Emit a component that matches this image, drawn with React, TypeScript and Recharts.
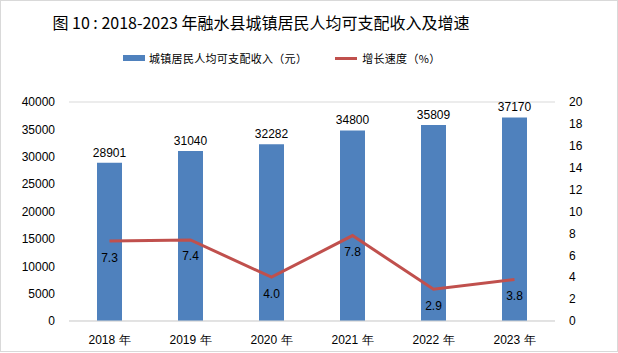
import React from 'react';
import { ComposedChart, Bar, Line, XAxis, YAxis, CartesianGrid, LabelList } from 'recharts';

const years = ['2018 年', '2019 年', '2020 年', '2021 年', '2022 年', '2023 年'];
const income = [28901, 31040, 32282, 34800, 35809, 37170];
const growth = [7.3, 7.4, 4.0, 7.8, 2.9, 3.8];
const leftTicks = [0, 5000, 10000, 15000, 20000, 25000, 30000, 35000, 40000];
const rightTicks = [0, 2, 4, 6, 8, 10, 12, 14, 16, 18, 20];

const data = years.map((y, i) => ({ year: y, income: income[i], growth: growth[i] }));

const BAR = '#4F81BD';
const LINE = '#C0504D';
const FONT = '"Liberation Sans", Arial, sans-serif';
const CJK = '"Noto Sans CJK SC", "Noto Sans", sans-serif';

export default function App() {
  return (
    <div style={{ position: 'absolute', left: 0, top: 0, width: 618, height: 353, background: '#fff' }}>
      <div style={{ position: 'absolute', left: 0, top: 0, width: 616, height: 350, border: '1px solid #d9d9d9' }} />
      <div style={{ position: 'absolute', left: 0, top: 10, width: 522, textAlign: 'center', fontFamily: CJK, fontSize: 16, color: '#000', whiteSpace: 'nowrap' }}>
        图 10 : 2018-2023 年融水县城镇居民人均可支配收入及增速
      </div>
      <div style={{ position: 'absolute', left: 123, top: 50, display: 'flex', alignItems: 'center', fontFamily: CJK, fontSize: 11, color: '#000', whiteSpace: 'nowrap' }}>
        <span style={{ display: 'inline-block', width: 22, height: 6, background: BAR, marginRight: 4 }} />
        <span style={{ letterSpacing: 0.3 }}>城镇居民人均可支配收入（元）</span>
        <span style={{ display: 'inline-block', width: 22, height: 3, background: LINE, marginLeft: 28, marginRight: 5 }} />
        <span style={{ letterSpacing: 0.3 }}>增长速度（%）</span>
      </div>
      <ComposedChart width={618} height={353} data={data} margin={{ top: 102, right: 13, bottom: 2, left: 9 }}>
        <CartesianGrid vertical={false} stroke="#d9d9d9" />
        <XAxis dataKey="year" axisLine={{ stroke: '#d9d9d9' }} tickLine={false} height={30} tick={{ fontFamily: FONT, fontSize: 12, fill: '#000' }} tickMargin={8} />
        <YAxis yAxisId="l" domain={[0, 40000]} ticks={leftTicks} width={60} axisLine={false} tickLine={false} tickMargin={8} tick={{ fontFamily: FONT, fontSize: 12, fill: '#000' }} interval={0} />
        <YAxis yAxisId="r" orientation="right" domain={[0, 20]} ticks={rightTicks} width={50} axisLine={false} tickLine={false} tickMargin={8} tick={{ fontFamily: FONT, fontSize: 12, fill: '#000' }} interval={0} />
        <Bar yAxisId="l" dataKey="income" fill={BAR} barSize={25} isAnimationActive={false}>
          <LabelList dataKey="income" position="top" offset={6} style={{ fontFamily: FONT, fontSize: 12, fill: '#000' }} />
        </Bar>
        <Line yAxisId="r" dataKey="growth" stroke={LINE} strokeWidth={3} dot={false} isAnimationActive={false}>
          <LabelList dataKey="growth" position="bottom" offset={12} formatter={(v: any) => Number(v).toFixed(1)} style={{ fontFamily: FONT, fontSize: 12, fill: '#000' }} />
        </Line>
      </ComposedChart>
    </div>
  );
}
